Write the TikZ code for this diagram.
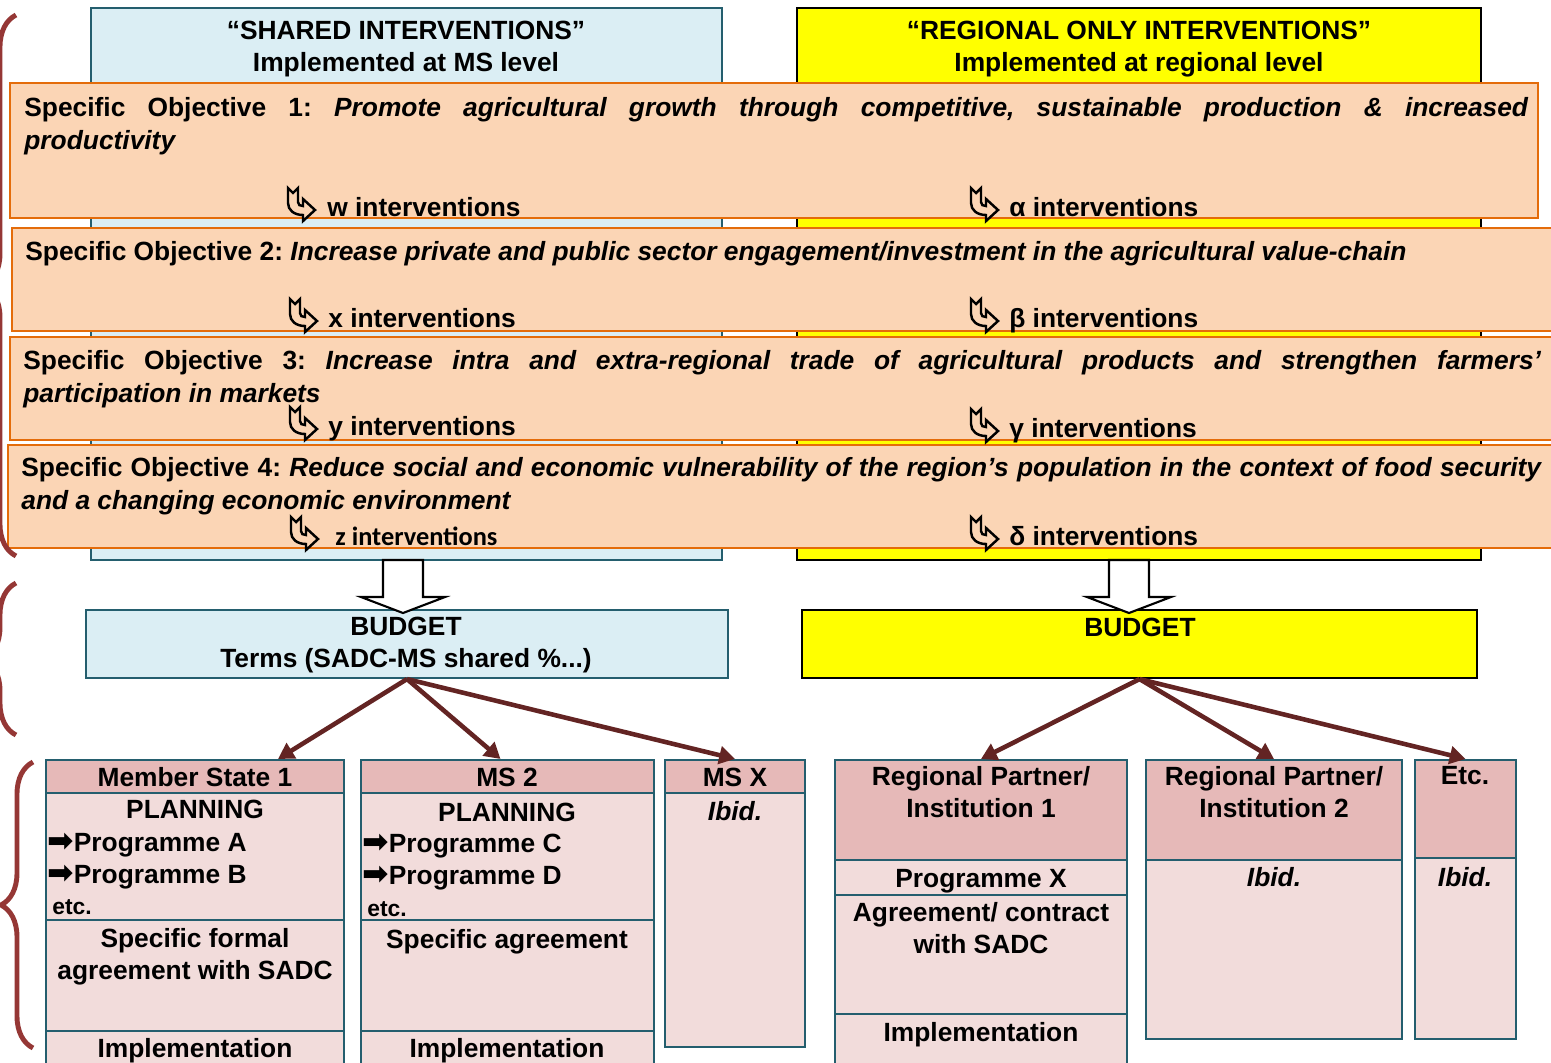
\documentclass[tikz,border=0pt]{standalone}
\usepackage{fontspec}
\setmainfont{Liberation Sans}
\newfontfamily\symfont{DejaVu Sans}
\newfontfamily\calfont{Carlito}
\usetikzlibrary{arrows.meta,positioning,fit,calc,decorations.pathreplacing}
\definecolor{sharedblue}{RGB}{219,238,244}
\definecolor{tealline}{RGB}{36,94,110}
\definecolor{regyellow}{RGB}{255,255,0}
\definecolor{objfill}{RGB}{251,213,181}
\definecolor{objline}{RGB}{228,108,10}
\definecolor{headpink}{RGB}{230,185,184}
\definecolor{bodypink}{RGB}{242,220,219}
\definecolor{flowred}{RGB}{99,36,35}
\definecolor{bracered}{RGB}{149,55,53}
\newcommand{\progarr}{{\symfont\fontsize{18}{18}\selectfont\smash{\raisebox{-0.5pt}{➡}}}}
\frenchspacing

\tikzset{
    hookarr/.pic={
        \draw[line width=1.4pt, fill=objfill]
            (0,0) -- (5,5) -- (10,0) -- (10,14)
            .. controls (10,17) and (12,18) .. (15,18) -- (15,11) -- (27,22)
            -- (15,33) -- (15,27) .. controls (6,27) and (0,22) .. (0,15) -- cycle;
    },
}

\begin{document}
\begin{tikzpicture}[
    x=0.02cm, y=-0.02cm,
    txt/.style={font=\fontsize{15}{18.2}\selectfont\bfseries, inner sep=0pt, align=center},
    progtxt/.style={txt, anchor=base west},
    etctxt/.style={font=\fontsize{13}{15}\selectfont\bfseries, inner sep=0pt, anchor=base west},
    objtxt/.style={font=\fontsize{15}{18.8}\selectfont\bfseries, inner sep=0pt,
                   align=justify, anchor=north west},
    interv/.style={font=\fontsize{15}{18}\selectfont\bfseries, inner sep=0pt, anchor=base west},
    tealbox/.style={draw=tealline, line width=1.2pt, inner sep=0pt},
    sharedbox/.style={tealbox, fill=sharedblue},
    regbox/.style={draw=black, line width=1.2pt, fill=regyellow, inner sep=0pt},
    objbox/.style={draw=objline, line width=1.2pt, fill=objfill, inner sep=0pt},
    headbox/.style={tealbox, fill=headpink},
    bodybox/.style={tealbox, fill=bodypink},
    blockarr/.style={draw=black, line width=1.2pt, fill=white},
    flow/.style={draw=flowred, line width=2.6pt, -{Triangle[length=9pt,width=10pt]}},
    curly/.style={draw=bracered, line width=2.8pt, decorate,
                  decoration={brace, amplitude=0.64cm}},
]
\useasboundingbox (0,0) rectangle (1551,1062);
\clip (0,0) rectangle (1551,1062);

% Intervention columns
\node[sharedbox, fit={(91,8)(722,560)}] (shared) {};
\node[regbox, fit={(797,8)(1481,560)}] (regional) {};
\node[txt, anchor=north] (sharedtitle) at (406,21)
    {“SHARED INTERVENTIONS”\\Implemented at MS level};
\node[txt, anchor=north] (regtitle) at (1139,21)
    {“REGIONAL ONLY INTERVENTIONS”\\Implemented at regional level};

% Specific objectives
\node[objbox, fit={(10,83)(1538,218)}] (so1) {};
\node[objbox, fit={(12,228)(1560,331)}] (so2) {};
\node[objbox, fit={(10,337)(1560,440)}] (so3) {};
\node[objbox, fit={(8,445)(1560,548)}] (so4) {};

\node[objtxt, text width=30.08cm] (so1txt) at (24,97)
    {Specific Objective 1: \textit{Promote agricultural growth through competitive, sustainable production \& increased\linebreak productivity}};
\node[interv] (so2txt) at (25,260)
    {Specific Objective 2: \textit{Increase private and public sector engagement/investment in the agricultural value-chain}};
\node[objtxt, text width=30.36cm] (so3txt) at (23,350)
    {Specific Objective 3: \textit{Increase intra and extra-regional trade of agricultural products and strengthen farmers’\linebreak participation in markets}};
\node[objtxt, text width=30.4cm] (so4txt) at (21,457)
    {Specific Objective 4: \textit{Reduce social and economic vulnerability of the region’s population in the context of food security\linebreak and a changing economic environment}};

% Interventions per objective
\node[interv] (intw) at (327,216) {w interventions};
\node[interv] (inta) at (1009,216) {α interventions};
\node[interv] (intx) at (328,327) {x interventions};
\node[interv] (intb) at (1009,327) {β interventions};
\node[interv] (inty) at (328,435) {y interventions};
\node[interv] (intg) at (1009,437) {γ interventions};
\node[interv, font=\fontsize{15}{18}\selectfont\calfont\bfseries] (intz) at (335,545) {z interventions};
\node[interv] (intd) at (1009,545) {δ interventions};

\pic at ($(intw.base west)+(-39,-28)$) {hookarr};
\pic at ($(inta.base west)+(-38,-28)$) {hookarr};
\pic at ($(intx.base west)+(-38,-28)$) {hookarr};
\pic at ($(intb.base west)+(-38,-28)$) {hookarr};
\pic at ($(inty.base west)+(-38,-28)$) {hookarr};
\pic at ($(intg.base west)+(-38,-28)$) {hookarr};
\pic at ($(intz.base west)+(-44,-28)$) {hookarr};
\pic at ($(intd.base west)+(-38,-28)$) {hookarr};

% Budgets
\node[sharedbox, fit={(86,610)(728,678)}] (budgetL) {};
\node[regbox, fit={(802,610)(1477,678)}] (budgetR) {};
\node[txt, anchor=north] (budgetLtxt) at (406,617) {BUDGET\\Terms (SADC-MS shared \%...)};
\node[txt, anchor=base] (budgetRtxt) at (1140,636) {BUDGET};

\coordinate (larr) at (403,560);
\coordinate (rarr) at (1129,560);
\draw[blockarr, shift={(larr)}] (-20,0) -- (20,0) -- (20,37) -- (42,37) -- (0,53)
    -- (-42,37) -- (-20,37) -- cycle;
\draw[blockarr, shift={(rarr)}] (-20,0) -- (20,0) -- (20,37) -- (42,37) -- (0,53)
    -- (-42,37) -- (-20,37) -- cycle;

% Member States
\node[headbox, fit={(46,760)(344,793)}] (ms1head) {};
\node[bodybox, fit={(46,793)(344,920)}] (ms1plan) {};
\node[bodybox, fit={(46,920)(344,1031)}] (ms1agree) {};
\node[bodybox, fit={(46,1031)(344,1080)}] (ms1impl) {};
\node[txt, anchor=base] (ms1name) at (195,786) {Member State 1};
\node[txt, anchor=base] (ms1plantxt) at (195,818) {PLANNING};
\node[progtxt] (proga) at (47,851) {\progarr Programme A};
\node[progtxt] (progb) at (47,883) {\progarr Programme B};
\node[etctxt] (ms1etc) at (52,914) {etc.};
\node[txt, anchor=north] (ms1agreetxt) at (195,928) {Specific formal\\agreement with SADC};
\node[txt, anchor=base] (ms1impltxt) at (195,1057) {Implementation};

\node[headbox, fit={(361,760)(654,793)}] (ms2head) {};
\node[bodybox, fit={(361,793)(654,920)}] (ms2plan) {};
\node[bodybox, fit={(361,920)(654,1031)}] (ms2agree) {};
\node[bodybox, fit={(361,1031)(654,1080)}] (ms2impl) {};
\node[txt, anchor=base] (ms2name) at (507,786) {MS 2};
\node[txt, anchor=base] (ms2plantxt) at (507,821) {PLANNING};
\node[progtxt] (progc) at (362,852) {\progarr Programme C};
\node[progtxt] (progd) at (362,884) {\progarr Programme D};
\node[etctxt] (ms2etc) at (367,916) {etc.};
\node[txt, anchor=base] (ms2agreetxt) at (507,948) {Specific agreement};
\node[txt, anchor=base] (ms2impltxt) at (507,1057) {Implementation};

\node[headbox, fit={(665,760)(805,793)}] (msxhead) {};
\node[bodybox, fit={(665,793)(805,1047)}] (msxbody) {};
\node[txt, anchor=base] (msxname) at (735,786) {MS X};
\node[txt, anchor=base] (msxibid) at (735,820) {\textit{Ibid.}};

% Regional partners
\node[headbox, fit={(835,760)(1127,860)}] (rp1head) {};
\node[bodybox, fit={(835,860)(1127,895)}] (rp1prog) {};
\node[bodybox, fit={(835,895)(1127,1014)}] (rp1agree) {};
\node[bodybox, fit={(835,1014)(1127,1080)}] (rp1impl) {};
\node[txt, anchor=north] (rp1name) at (981,766) {Regional Partner/\\Institution 1};
\node[txt, anchor=base] (rp1progtxt) at (981,887) {Programme X};
\node[txt, anchor=north] (rp1agreetxt) at (981,902) {Agreement/ contract\\with SADC};
\node[txt, anchor=base] (rp1impltxt) at (981,1041) {Implementation};

\node[headbox, fit={(1146,760)(1402,860)}] (rp2head) {};
\node[bodybox, fit={(1146,860)(1402,1039)}] (rp2body) {};
\node[txt, anchor=north] (rp2name) at (1274,766) {Regional Partner/\\Institution 2};
\node[txt, anchor=base] (rp2ibid) at (1274,886) {\textit{Ibid.}};

\node[headbox, fit={(1415,760)(1516,858)}] (etchead) {};
\node[bodybox, fit={(1415,858)(1516,1039)}] (etcbody) {};
\node[txt, anchor=base] (etcname) at (1465,784) {Etc.};
\node[txt, anchor=base] (etcibid) at (1465,886) {\textit{Ibid.}};

% Budget flows
\draw[flow] (budgetL.south) -- ($(ms1head.north)+(83,0)$);
\draw[flow] (budgetL.south) -- ($(ms2head.north)+(-7,0)$);
\draw[flow] (budgetL.south) -- (msxhead.north);
\draw[flow] (budgetR.south) -- (rp1head.north);
\draw[flow] (budgetR.south) -- (rp2head.north);
\draw[flow] (budgetR.south) -- (etchead.north);

% Braces
\draw[curly] (16,556) -- (16,15);
\draw[curly] (16,735) -- (16,583);
\draw[curly] (33,1048) -- (33,762);

\end{tikzpicture}
\end{document}
